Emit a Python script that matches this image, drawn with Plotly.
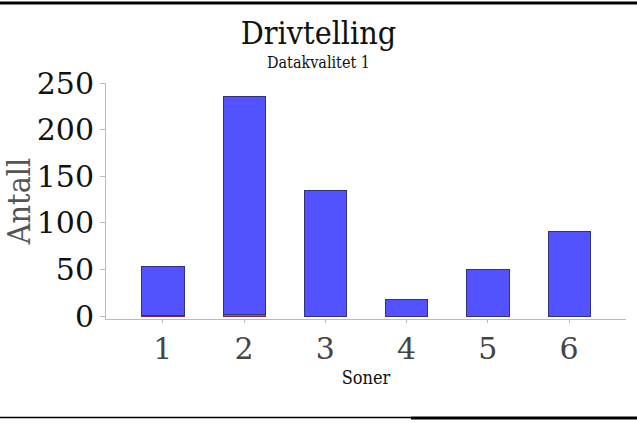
import plotly.graph_objects as go

zones = ["1", "2", "3", "4", "5", "6"]
quality_low = [1, 2, 0, 0, 0, 0]
quality_1 = [52, 234, 135, 18, 50, 91]
y_ticks = [0, 50, 100, 150, 200, 250]

COND = "DejaVu Serif Condensed, DejaVu Serif, serif"
SERIF = "DejaVu Serif, serif"

bar_low = go.Bar(
    x=zones,
    y=quality_low,
    marker=dict(color="rgb(220,70,70)", line=dict(color="rgb(120,40,60)", width=1)),
    name="lav",
)
bar_main = go.Bar(
    x=zones,
    y=quality_1,
    marker=dict(color="rgb(82,82,255)", line=dict(color="rgb(50,50,120)", width=1)),
    name="Datakvalitet 1",
)

fig = go.Figure([bar_low, bar_main])
fig.update_layout(
    barmode="stack",
    bargap=0.48,
    width=637,
    height=423,
    showlegend=False,
    plot_bgcolor="white",
    paper_bgcolor="white",
    font=dict(family=COND, color="#111"),
    margin=dict(l=106, r=11, t=83, b=104),
    title=dict(
        text="Drivtelling",
        x=0.5,
        xref="container",
        xanchor="center",
        y=1 - 33 / 423,
        yref="container",
        yanchor="middle",
        font=dict(size=32, family=COND, color="#111"),
    ),
)
fig.add_annotation(
    text="Datakvalitet 1",
    xref="paper", yref="paper",
    x=(318 - 106) / 520, y=(319 - 62) / 236,
    xanchor="center", yanchor="middle",
    showarrow=False,
    font=dict(size=16, family=COND, color="#111"),
)
fig.update_xaxes(
    type="category",
    range=[-0.7, 5.7],
    showline=True,
    linecolor="#bbb",
    linewidth=1,
    ticks="outside",
    ticklen=3,
    tickcolor="#bbb",
    tickfont=dict(size=30, family=SERIF, color="#444"),
    title=dict(text="Soner", font=dict(size=18, family=COND, color="#111"), standoff=6),
)
fig.update_yaxes(
    range=[-3, 250],
    tickvals=y_ticks,
    showgrid=False,
    zeroline=False,
    showline=True,
    linecolor="#bbb",
    linewidth=1,
    ticks="outside",
    ticklen=5,
    tickcolor="#bbb",
    tickfont=dict(size=30, family=SERIF, color="#111"),
    title=dict(text="Antall", font=dict(size=32, family=COND, color="#555"), standoff=2),
)

# page rules above and below the figure
fig.add_shape(type="line", xref="paper", yref="paper", x0=-0.21, x1=1.03, y0=1.339, y1=1.339,
              line=dict(color="black", width=3))
fig.add_shape(type="line", xref="paper", yref="paper", x0=-0.21, x1=0.5865, y0=-0.417, y1=-0.417,
              line=dict(color="black", width=1.5))
fig.add_shape(type="line", xref="paper", yref="paper", x0=0.5865, x1=1.03, y0=-0.419, y1=-0.419,
              line=dict(color="black", width=3))

fig.write_html("out.html", config={"displayModeBar": False},
               post_script="document.body.style.margin='0';")
